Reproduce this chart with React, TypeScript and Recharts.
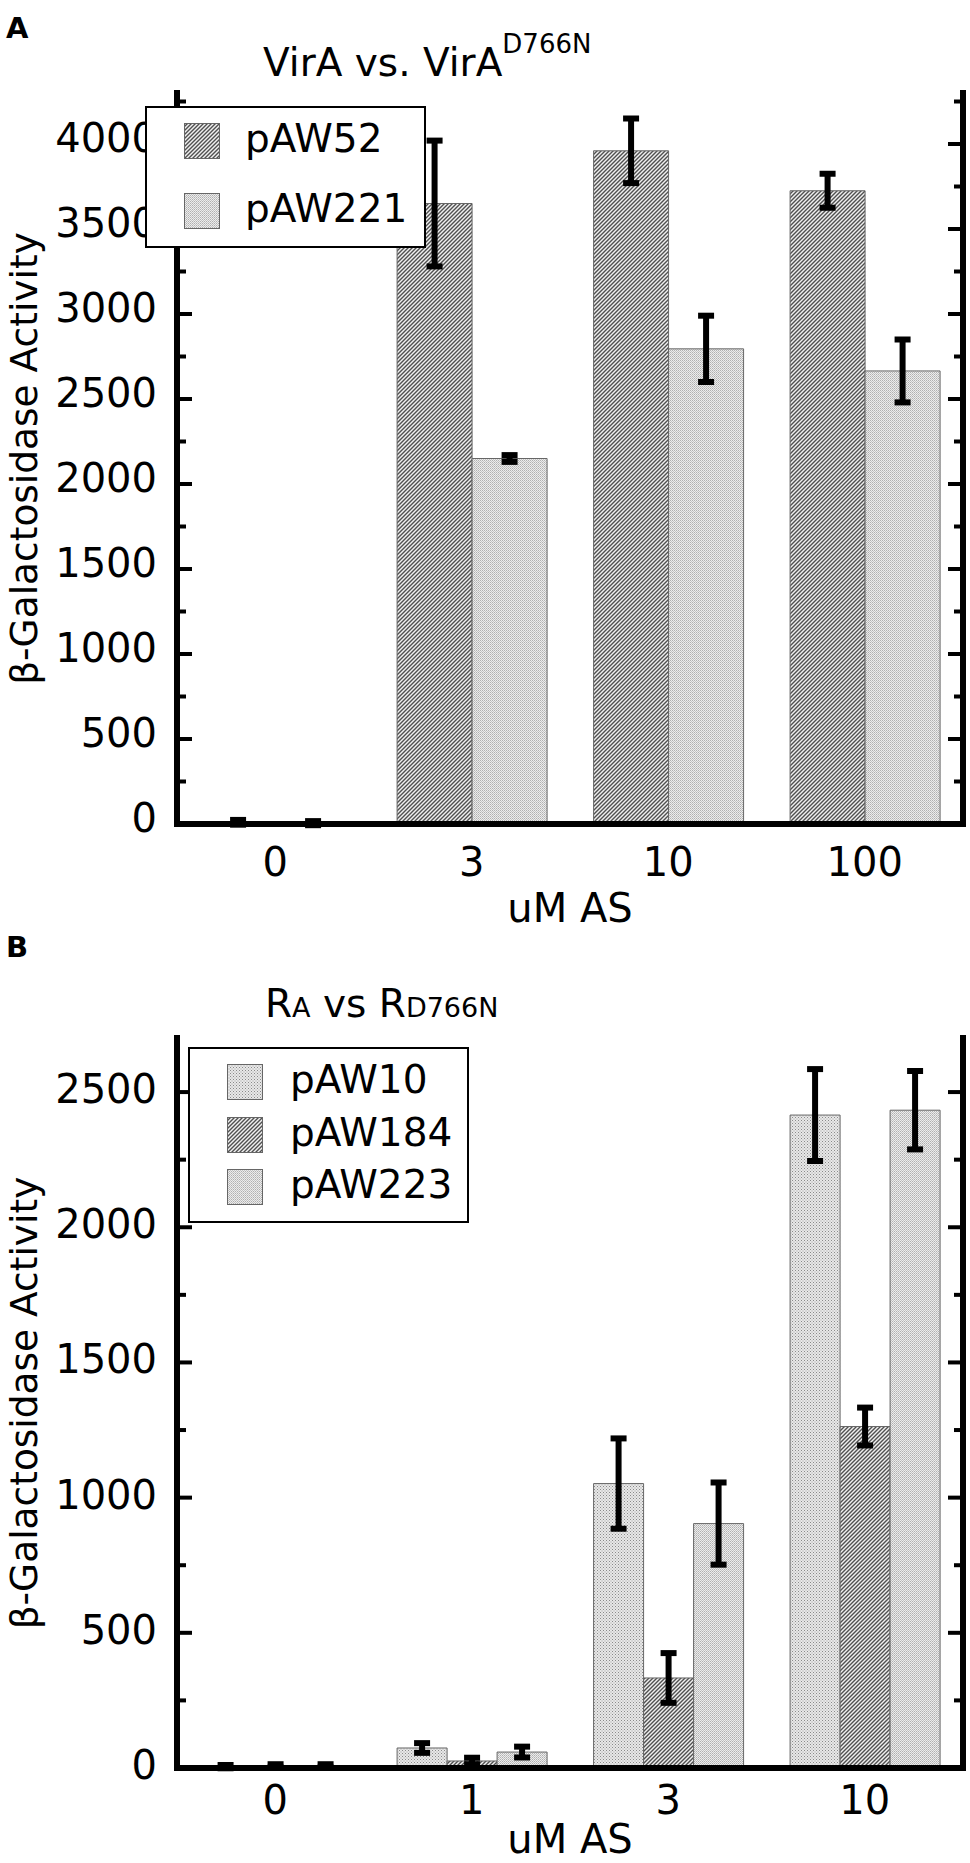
import React from "react";
import { Bar, BarChart, ErrorBar, Legend, XAxis, YAxis } from "recharts";

const FONT = "'DejaVu Sans', sans-serif";

// panel A
const categoriesA = ["0", "3", "10", "100"];
const pAW52 = [10, 3650, 3960, 3725];
const pAW52Err = [14, 370, 190, 100];
const pAW221 = [5, 2150, 2795, 2665];
const pAW221Err = [12, 20, 195, 185];
const yTicksA = [0, 250, 500, 750, 1000, 1250, 1500, 1750, 2000, 2250, 2500, 2750, 3000, 3250, 3500, 3750, 4000, 4250];
const yMaxA = 4300;

// panel B
const categoriesB = ["0", "1", "3", "10"];
const pAW10 = [5, 74, 1052, 2415];
const pAW10Err = [6, 18, 167, 170];
const pAW184 = [8, 26, 333, 1263];
const pAW184Err = [6, 12, 92, 70];
const pAW223 = [8, 59, 904, 2433];
const pAW223Err = [6, 20, 152, 145];
const yTicksB = [0, 250, 500, 750, 1000, 1250, 1500, 1750, 2000, 2250, 2500];
const yMaxB = 2700;

const dataA = categoriesA.map((cat, i) => ({
  cat,
  pAW52: pAW52[i],
  pAW52Err: pAW52Err[i],
  pAW221: pAW221[i],
  pAW221Err: pAW221Err[i],
}));

const dataB = categoriesB.map((cat, i) => ({
  cat,
  pAW10: pAW10[i],
  pAW10Err: pAW10Err[i],
  pAW184: pAW184[i],
  pAW184Err: pAW184Err[i],
  pAW223: pAW223[i],
  pAW223Err: pAW223Err[i],
}));

const seriesA = [
  { key: "pAW52", fill: "url(#patHatch)" },
  { key: "pAW221", fill: "url(#patFine)" },
];
const seriesB = [
  { key: "pAW10", fill: "url(#patDots)" },
  { key: "pAW184", fill: "url(#patHatch)" },
  { key: "pAW223", fill: "url(#patFine)" },
];

const frameLine = { stroke: "#000", strokeWidth: 6, strokeLinecap: "square" as const };

function Patterns() {
  return (
    <svg width={0} height={0} style={{ position: "absolute" }}>
      <defs>
        <pattern id="patHatch" width={4} height={4} patternUnits="userSpaceOnUse">
          <rect width={4} height={4} fill="#f0f0f0" />
          <path d="M-1,1 L1,-1 M0,4 L4,0 M3,5 L5,3" stroke="#505050" strokeWidth={1.4} />
        </pattern>
        <pattern id="patFine" width={2} height={2} patternUnits="userSpaceOnUse">
          <rect width={2} height={2} fill="#ececec" />
          <rect x={0} y={0} width={1} height={1} fill="#b0b0b0" />
          <rect x={1} y={1} width={1} height={1} fill="#c4c4c4" />
        </pattern>
        <pattern id="patDots" width={3} height={3} patternUnits="userSpaceOnUse">
          <rect width={3} height={3} fill="#e8e8e8" />
          <rect x={0} y={0} width={1} height={1} fill="#8a8a8a" />
          <rect x={1.5} y={1.5} width={1} height={1} fill="#a0a0a0" />
        </pattern>
      </defs>
    </svg>
  );
}

function LeftTick(props: any) {
  const { x, y, payload, dy } = props;
  const major = payload.value % 500 === 0;
  return (
    <g>
      <line x1={x} x2={x + (major ? 15 : 9)} y1={y} y2={y} stroke="#000" strokeWidth={4} />
      {major && (
        <text x={x - 20} y={y + dy} textAnchor="end" fontFamily={FONT} fontSize={40} fill="#000">
          {payload.value}
        </text>
      )}
    </g>
  );
}

function RightTick(props: any) {
  const { x, y, payload } = props;
  const major = payload.value % 500 === 0;
  return <line x1={x} x2={x - (major ? 15 : 9)} y1={y} y2={y} stroke="#000" strokeWidth={4} />;
}

function BottomTick(props: any) {
  const { x, y, payload, dy } = props;
  return (
    <text x={x} y={y + dy} textAnchor="middle" fontFamily={FONT} fontSize={40} fill="#000">
      {payload.value}
    </text>
  );
}

function LegendBox({ items, width, height, swatchTop, rowGap, textLeft }: any) {
  return (
    <div
      style={{
        position: "relative",
        width,
        height,
        boxSizing: "border-box",
        border: "2px solid #000",
        background: "#fff",
        fontFamily: FONT,
        fontSize: 39,
      }}
    >
      {items.map((it: any, i: number) => (
        <React.Fragment key={it.key}>
          <svg width={37} height={37} style={{ position: "absolute", left: 37, top: swatchTop + i * rowGap }}>
            <rect x={0.5} y={0.5} width={35} height={35} fill={it.fill} stroke="#666" strokeWidth={1} />
          </svg>
          <div style={{ position: "absolute", left: textLeft, top: swatchTop + i * rowGap - 9, lineHeight: "50px" }}>
            {it.key}
          </div>
        </React.Fragment>
      ))}
    </div>
  );
}

function yLabel(cx: number) {
  return (p: any) => {
    const vb = p.viewBox || {};
    const cy = vb.y + vb.height / 2;
    return (
      <text
        x={cx}
        y={cy}
        transform={`rotate(-90, ${cx}, ${cy})`}
        textAnchor="middle"
        fontFamily={FONT}
        fontSize={37.5}
        fill="#000"
      >
        β-Galactosidase Activity
      </text>
    );
  };
}

function xLabel(off: number) {
  return (p: any) => {
    const vb = p.viewBox || {};
    return (
      <text x={vb.x + vb.width / 2} y={vb.y + off} textAnchor="middle" fontFamily={FONT} fontSize={40} fill="#000">
        uM AS
      </text>
    );
  };
}

function Panel({
  data,
  series,
  ticks,
  yMax,
  height,
  top,
  xHeight,
  xTickDy,
  xLabelDy,
  yTickDy,
  legend,
}: any) {
  return (
    <BarChart
      width={970}
      height={height}
      data={data}
      margin={{ top, right: 0, bottom: 0, left: 0 }}
      barCategoryGap="12%"
      barGap={0}
    >
      <XAxis
        xAxisId="bottom"
        dataKey="cat"
        height={xHeight}
        interval={0}
        tickSize={0}
        tickMargin={0}
        tickLine={false}
        axisLine={frameLine}
        tick={(p: any) => <BottomTick {...p} dy={xTickDy} />}
        label={{ content: xLabel(xLabelDy) }}
      />
      <XAxis xAxisId="top" dataKey="cat" orientation="top" height={0} tick={false} tickLine={false} axisLine={frameLine} />
      <YAxis
        yAxisId="left"
        width={177}
        type="number"
        domain={[0, yMax]}
        ticks={ticks}
        interval={0}
        allowDataOverflow
        tickSize={0}
        tickMargin={0}
        tickLine={false}
        axisLine={frameLine}
        tick={(p: any) => <LeftTick {...p} dy={yTickDy} />}
        label={{ content: yLabel(37) }}
      />
      <YAxis
        yAxisId="right"
        orientation="right"
        width={7}
        type="number"
        domain={[0, yMax]}
        ticks={ticks}
        interval={0}
        allowDataOverflow
        tickSize={0}
        tickMargin={0}
        tickLine={false}
        axisLine={frameLine}
        tick={(p: any) => <RightTick {...p} />}
      />
      {series.map((s: any) => (
        <Bar
          key={s.key}
          dataKey={s.key}
          xAxisId="bottom"
          yAxisId="left"
          fill={s.fill}
          stroke="#666"
          strokeWidth={1}
          isAnimationActive={false}
        >
          <ErrorBar dataKey={s.key + "Err"} width={8} strokeWidth={6} stroke="#000" isAnimationActive={false} />
        </Bar>
      ))}
      <Legend
        layout="vertical"
        align="center"
        verticalAlign="middle"
        wrapperStyle={{ left: legend.left, top: legend.top, width: legend.width, height: legend.height }}
        content={() => (
          <LegendBox
            items={series}
            width={legend.width}
            height={legend.height}
            swatchTop={legend.swatchTop}
            rowGap={legend.rowGap}
            textLeft={legend.textLeft}
          />
        )}
      />
    </BarChart>
  );
}

export default function App() {
  return (
    <div style={{ position: "absolute", left: 0, top: 0, width: 970, height: 1863, background: "#fff" }}>
      <Patterns />
      <svg width={970} height={1863} style={{ position: "absolute", left: 0, top: 0 }}>
        <text x={6} y={38} fontFamily={FONT} fontWeight="bold" fontSize={29}>A</text>
        <text x={6} y={957} fontFamily={FONT} fontWeight="bold" fontSize={29}>B</text>
        <text x={263} y={76} fontFamily={FONT} fontSize={39}>
          VirA vs. VirA
          <tspan fontSize={26} dy={-23}>D766N</tspan>
        </text>
        <text x={265} y={1017} fontFamily={FONT} fontSize={39}>
          R<tspan fontSize={27}>A</tspan> vs R<tspan fontSize={27}>D766N</tspan>
        </text>
      </svg>
      <div style={{ position: "absolute", left: 0, top: 0 }}>
        <Panel
          data={dataA}
          series={seriesA}
          ticks={yTicksA}
          yMax={yMaxA}
          height={931}
          top={93}
          xHeight={107}
          xTickDy={52}
          xLabelDy={98}
          yTickDy={8}
          legend={{ left: 145, top: 106, width: 281, height: 142, swatchTop: 15, rowGap: 70, textLeft: 98 }}
        />
      </div>
      <div style={{ position: "absolute", left: 0, top: 931 }}>
        <Panel
          data={dataB}
          series={seriesB}
          ticks={yTicksB}
          yMax={yMaxB}
          height={932}
          top={107}
          xHeight={95}
          xTickDy={46}
          xLabelDy={85}
          yTickDy={11}
          legend={{ left: 188, top: 116, width: 281, height: 176, swatchTop: 15, rowGap: 52.5, textLeft: 100 }}
        />
      </div>
    </div>
  );
}
